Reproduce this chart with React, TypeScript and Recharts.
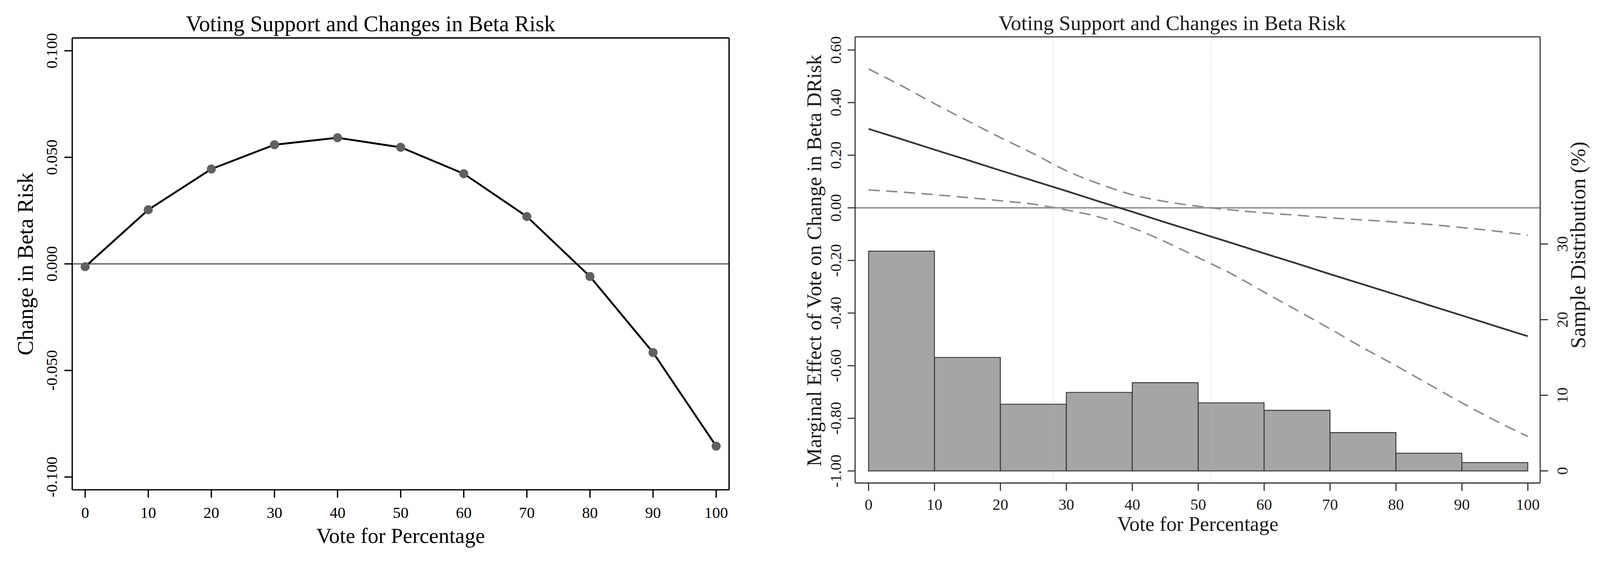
import React from 'react';
import {
  LineChart,
  ComposedChart,
  Line,
  Bar,
  XAxis,
  YAxis,
  ReferenceLine,
} from 'recharts';

// left panel: predicted change in beta risk by vote share
const VOTE = [0, 10, 20, 30, 40, 50, 60, 70, 80, 90, 100];
const BETA_CHANGE = [-0.0013, 0.0254, 0.0445, 0.0559, 0.0592, 0.0547, 0.0423, 0.0222, -0.0059, -0.0416, -0.0855];
const LEFT_Y_TICKS = [-0.1, -0.05, 0, 0.05, 0.1];

// right panel: marginal effect with 95% band, plus histogram of the sample
const GRID_VOTE = [0, 5, 10, 15, 20, 25, 30, 35, 40, 45, 50, 55, 60, 65, 70, 75, 80, 85, 90, 95, 100];
const EFFECT = [0.3, 0.261, 0.221, 0.182, 0.142, 0.103, 0.064, 0.024, -0.015, -0.055, -0.094, -0.133, -0.173, -0.212, -0.252, -0.291, -0.33, -0.37, -0.409, -0.449, -0.488];
const CI_UPPER = [0.528, 0.464, 0.396, 0.331, 0.267, 0.206, 0.141, 0.091, 0.05, 0.024, 0.006, -0.008, -0.019, -0.028, -0.038, -0.046, -0.054, -0.063, -0.075, -0.088, -0.104];
const CI_LOWER = [0.068, 0.06, 0.05, 0.039, 0.027, 0.014, -0.008, -0.035, -0.076, -0.129, -0.189, -0.25, -0.32, -0.39, -0.46, -0.532, -0.6, -0.671, -0.741, -0.808, -0.869];
const BIN_MID = [5, 15, 25, 35, 45, 55, 65, 75, 85, 95];
const BIN_PCT = [29.06, 15.0, 8.82, 10.38, 11.66, 9.0, 8.01, 5.07, 2.34, 1.1];
const RIGHT_Y_TICKS = [-1.0, -0.8, -0.6, -0.4, -0.2, 0, 0.2, 0.4, 0.6];
const DIST_TICKS = [0, 10, 20, 30];
const CROSS_POINTS = [28, 52];

const leftRows = VOTE.map((v, i) => ({ vote: v, beta: BETA_CHANGE[i] }));
const lineRows = GRID_VOTE.map((v, i) => ({ vote: v, est: EFFECT[i], hi: CI_UPPER[i], lo: CI_LOWER[i] }));
const binRows = BIN_MID.map((m, i) => ({ vote: m, pct: BIN_PCT[i] }));

const FONT = '"Liberation Serif", "DejaVu Serif", serif';
const PAGE_W = 4253;
const PAGE_H = 1486;

const rotTick = (digits: number, color: string) => (props: any) => {
  const { x, y, payload } = props;
  const label = digits > 0 ? Number(payload.value).toFixed(digits) : String(payload.value);
  return (
    <text
      x={x}
      y={y}
      transform={`rotate(-90, ${x}, ${y})`}
      textAnchor="middle"
      fontFamily={FONT}
      fontSize={42}
      fill={color}
    >
      {label}
    </text>
  );
};

const xTick = (color: string) => (props: any) => {
  const { x, y, payload } = props;
  return (
    <text x={x} y={y} dy="0.71em" textAnchor="middle" fontFamily={FONT} fontSize={42} fill={color}>
      {payload.value}
    </text>
  );
};

const LeftPanel = () => {
  const ax = { stroke: '#000', strokeWidth: 3.5 };
  return (
    <LineChart
      width={2100}
      height={PAGE_H}
      data={leftRows}
      margin={{ top: 100, right: 161, bottom: 182, left: 191 }}
    >
      <XAxis
        dataKey="vote"
        type="number"
        domain={[-2.05, 102.05]}
        ticks={VOTE}
        height={1}
        tickSize={21}
        tickMargin={24}
        axisLine={ax}
        tickLine={ax}
        tick={xTick('#000')}
        allowDataOverflow
      />
      <XAxis xAxisId="top" orientation="top" type="number" domain={[0, 1]} ticks={[0, 1]} height={1} tick={false} tickLine={false} axisLine={ax} />
      <YAxis
        type="number"
        domain={[-0.106, 0.106]}
        ticks={LEFT_Y_TICKS}
        width={1}
        tickSize={21}
        tickMargin={19}
        axisLine={ax}
        tickLine={ax}
        tick={rotTick(3, '#000')}
        allowDataOverflow
      />
      <YAxis yAxisId="frame" orientation="right" type="number" domain={[0, 1]} ticks={[0, 1]} width={1} tick={false} tickLine={false} axisLine={ax} />
      <ReferenceLine y={0} stroke="#444" strokeWidth={3} />
      <Line
        dataKey="beta"
        type="linear"
        stroke="#000"
        strokeWidth={5}
        dot={{ r: 12, fill: '#606060', stroke: 'none' }}
        activeDot={false}
        isAnimationActive={false}
      />
    </LineChart>
  );
};

const RightPanel = () => {
  const ax = { stroke: '#333', strokeWidth: 3 };
  return (
    <ComposedChart
      width={2153}
      height={PAGE_H}
      data={binRows}
      barCategoryGap={0}
      barGap={0}
      margin={{ top: 97, right: 158, bottom: 200, left: 172 }}
    >
      <XAxis
        dataKey="vote"
        type="number"
        domain={[-2.04, 101.87]}
        ticks={VOTE}
        height={1}
        tickSize={21}
        tickMargin={20}
        axisLine={ax}
        tickLine={ax}
        tick={xTick('#1a1a1a')}
        allowDataOverflow
      />
      <XAxis xAxisId="bins" dataKey="vote" type="number" domain={[-2.04, 101.87]} ticks={VOTE} hide allowDataOverflow />
      <XAxis xAxisId="top" orientation="top" type="number" domain={[0, 1]} ticks={[0, 1]} height={1} tick={false} tickLine={false} axisLine={ax} />
      <YAxis
        yAxisId="me"
        type="number"
        domain={[-1.046, 0.65]}
        ticks={RIGHT_Y_TICKS}
        width={1}
        tickSize={20}
        tickMargin={17}
        axisLine={ax}
        tickLine={ax}
        tick={rotTick(2, '#1a1a1a')}
        allowDataOverflow
      />
      <YAxis
        yAxisId="dist"
        orientation="right"
        type="number"
        domain={[-1.605, 57.4]}
        ticks={DIST_TICKS}
        width={1}
        tickSize={21}
        tickMargin={52}
        axisLine={ax}
        tickLine={ax}
        tick={rotTick(0, '#1a1a1a')}
        allowDataOverflow
      />
      <Bar
        xAxisId="bins"
        yAxisId="dist"
        dataKey="pct"
        fill="#a5a5a5"
        stroke="#3a3a3a"
        strokeWidth={2.5}
        isAnimationActive={false}
      />
      {CROSS_POINTS.map((c) => (
        <ReferenceLine key={c} x={c} yAxisId="me" stroke="#bdbdbd" strokeWidth={2} strokeDasharray="2 5" />
      ))}
      <ReferenceLine y={0} yAxisId="me" stroke="#8a8a8a" strokeWidth={3.5} />
      <Line
        yAxisId="me"
        data={lineRows}
        dataKey="hi"
        type="monotone"
        stroke="#8c8c8c"
        strokeWidth={4}
        strokeDasharray="30 17"
        dot={false}
        activeDot={false}
        isAnimationActive={false}
      />
      <Line
        yAxisId="me"
        data={lineRows}
        dataKey="lo"
        type="monotone"
        stroke="#8c8c8c"
        strokeWidth={4}
        strokeDasharray="30 17"
        dot={false}
        activeDot={false}
        isAnimationActive={false}
      />
      <Line
        yAxisId="me"
        data={lineRows}
        dataKey="est"
        type="linear"
        stroke="#333"
        strokeWidth={4.5}
        dot={false}
        activeDot={false}
        isAnimationActive={false}
      />
    </ComposedChart>
  );
};

const Titles = () => (
  <svg
    width={PAGE_W}
    height={PAGE_H}
    style={{ position: 'absolute', left: 0, top: 0, pointerEvents: 'none' }}
    fontFamily={FONT}
  >
    <text x={985} y={83} textAnchor="middle" fontSize={59} fill="#000">Voting Support and Changes in Beta Risk</text>
    <text x={1065} y={1444} textAnchor="middle" fontSize={57} fill="#000">Vote for Percentage</text>
    <text x={87} y={702} transform="rotate(-90, 87, 702)" textAnchor="middle" fontSize={59} fill="#000">Change in Beta Risk</text>
    <text x={3116} y={80} textAnchor="middle" fontSize={55.5} fill="#1a1a1a">Voting Support and Changes in Beta Risk</text>
    <text x={3184} y={1412} textAnchor="middle" fontSize={54.5} fill="#1a1a1a">Vote for Percentage</text>
    <text x={2183} y={693} transform="rotate(-90, 2183, 693)" textAnchor="middle" fontSize={55} fill="#1a1a1a">Marginal Effect of Vote on Change in Beta DRisk</text>
    <text x={4214} y={652} transform="rotate(-90, 4214, 652)" textAnchor="middle" fontSize={56} fill="#1a1a1a">Sample Distribution (%)</text>
  </svg>
);

export default function App() {
  // the viewport can be narrower than the photo; fit the layout to it
  const vw = typeof window !== 'undefined' && window.innerWidth ? window.innerWidth : PAGE_W;
  const k = Math.min(1, vw / PAGE_W);
  return (
    <div
      style={{
        position: 'absolute',
        left: 0,
        top: 0,
        width: PAGE_W,
        height: PAGE_H,
        background: '#fff',
        overflow: 'hidden',
        transform: `scale(${k})`,
        transformOrigin: '0 0',
      }}
    >
      <div style={{ position: 'absolute', left: 0, top: 0 }}>
        <LeftPanel />
      </div>
      <div style={{ position: 'absolute', left: 2100, top: 0 }}>
        <RightPanel />
      </div>
      <Titles />
    </div>
  );
}
